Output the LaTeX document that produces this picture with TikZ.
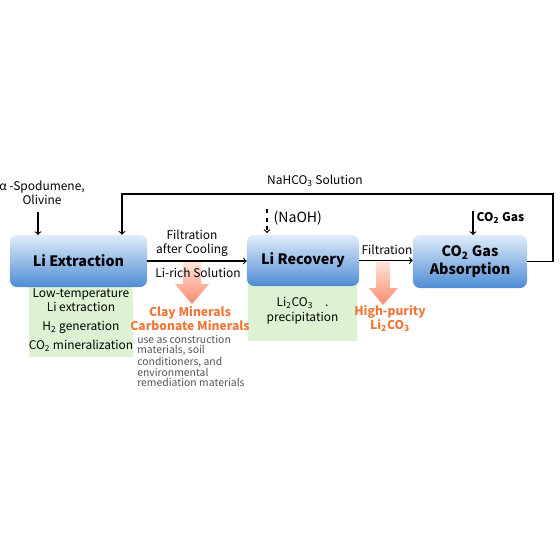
\documentclass[tikz,border=0pt]{standalone}
\usepackage{fontspec}
\setmainfont{Noto Sans CJK JP}
\usetikzlibrary{positioning}
\definecolor{boxtop}{RGB}{224,237,250}
\definecolor{boxbot}{RGB}{78,140,212}
\definecolor{notegreen}{RGB}{221,242,211}
\definecolor{prodorange}{RGB}{240,118,58}
\definecolor{arrtop}{RGB}{255,228,218}
\definecolor{arrbot}{RGB}{249,138,108}
\definecolor{usegray}{RGB}{85,85,85}
\tikzset{
  procbox/.style={rounded corners=5pt, top color=boxtop, middle color=boxtop!75!boxbot,
    bottom color=boxbot, align=center, inner sep=0pt,
    font=\bfseries\fontsize{10.2}{12.5}\selectfont},
  notebox/.style={fill=notegreen, align=center, inner sep=0pt,
    font=\fontsize{8.5}{10}\selectfont},
  flowtext/.style={align=center, inner sep=1pt, font=\fontsize{8.5}{10}\selectfont},
  prodtext/.style={align=center, inner sep=1pt, text=prodorange,
    font=\bfseries\fontsize{8.6}{10}\selectfont},
  usetext/.style={align=left, inner sep=0pt, text=usegray,
    font=\fontsize{7.4}{7.2}\selectfont},
  flow/.style={->, line width=0.8pt},
}
\begin{document}
\begin{tikzpicture}[x=0.025cm,y=-0.025cm]
 \useasboundingbox (0,0) rectangle (560,560);
 % product arrows
 \shade[top color=arrtop,bottom color=arrbot] (183,262) -- (201,262) -- (201,284) -- (209,284)
   -- (192,304) -- (175,284) -- (183,284) -- cycle;
 \shade[top color=arrtop,bottom color=arrbot] (376,262) -- (390,262) -- (390,288) -- (398,288)
   -- (383,305) -- (369,288) -- (376,288) -- cycle;
 %
 \node[notebox, minimum width=2.55cm, minimum height=1.85cm] (extnote) at (81,320)
   {Low-temperature\\Li extraction\\[3.5pt]H\textsubscript{2} generation\\[3.5pt]CO\textsubscript{2} mineralization};
 \node[notebox, minimum width=2.725cm, minimum height=1.525cm] (recnote) at (302.5,310.5)
   {Li\textsubscript{2}CO\textsubscript{3}\quad.\\[1pt]precipitation};
 %
 \node[procbox, minimum width=3.425cm, minimum height=1.3cm] (ext) at (78.5,261) {Li Extraction};
 \node[procbox, minimum width=2.8cm, minimum height=1.275cm] (rec) at (303,260.5) {Li Recovery};
 \node[procbox, minimum width=2.85cm, minimum height=1.325cm] (abs) at (470,261.5) {CO\textsubscript{2} Gas\\Absorption};
 %
 \node[flowtext] (feed) at (42,193) {α -Spodumene,\\Olivine};
 \node[flowtext] (filt1) at (192,243) {Filtration\\after Cooling};
 \node[flowtext] (lirich) at (198,273) {Li-rich Solution};
 \node[flowtext] (filt2) at (387,250) {Filtration};
 \node[flowtext] (nahco) at (315,181) {NaHCO\textsubscript{3} Solution};
 \node[flowtext, anchor=west, font=\fontsize{10}{12}\selectfont] (naoh) at (272,218) {(NaOH)};
 \node[flowtext, anchor=west, font=\bfseries\fontsize{8.5}{10}\selectfont] (gas) at (475,218) {CO\textsubscript{2} Gas};
 %
 \node[prodtext] (clay) at (190,319) {Clay Minerals\\Carbonate Minerals};
 \node[prodtext] (purity) at (390,318.5) {High-purity\\Li\textsubscript{2}CO\textsubscript{3}};
 \node[usetext, anchor=north west] (use) at (137,335)
   {use as construction\\materials, soil\\conditioners, and\\environmental\\remediation materials};
 % connectors
 \coordinate (feedEnd) at (38,235);
 \coordinate (naohEnd) at (267,233);
 \coordinate (gasEnd) at (473,235);
 \coordinate (loopR) at (553,194);
 \coordinate (loopL) at (122,194);
 \draw[flow] (ext.east) -- (ext.east -| rec.west);
 \draw[flow] (rec.east) -- (rec.east -| abs.west);
 \draw[flow] (abs.east) -| (loopR) -- (loopL) -- (loopL |- ext.north);
 \draw[flow, shorten <=4pt] (feedEnd |- feed.south) -- (feedEnd);
 \draw[flow, dashed] (naohEnd |- naoh.north) -- (naohEnd);
 \draw[flow] (gasEnd |- gas.north) -- (gasEnd);
\end{tikzpicture}
\end{document}
